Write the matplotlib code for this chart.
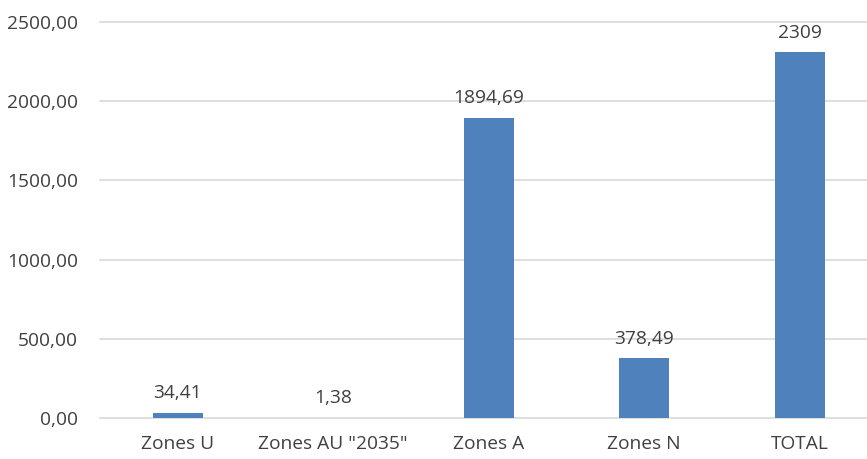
import matplotlib
matplotlib.use("Agg")
import matplotlib.pyplot as plt

categories = ["Zones U", 'Zones AU "2035"', "Zones A", "Zones N", "TOTAL"]
values = [34.41, 1.38, 1894.69, 378.49, 2309]
labels = ["34,41", "1,38", "1894,69", "378,49", "2309"]
yticks = [0, 500, 1000, 1500, 2000, 2500]

plt.rcParams['font.family'] = ['Open Sans', 'DejaVu Sans']
txt = '#404040'
fs = 13.8

fig = plt.figure(figsize=(8.67, 4.59), dpi=100)
ax = fig.add_axes([100/867, 41/459, 777.5/867, 396/459])
x = list(range(len(categories)))
bars = ax.bar(x, values, width=0.32, color='#4F81BD', zorder=3)
ax.set_xlim(-0.5, len(categories) - 0.5)
ax.set_ylim(0, 2500)
ax.set_yticks(yticks)
ax.set_yticklabels([f"{v:.2f}".replace('.', ',') for v in yticks])
ax.set_xticks(x)
ax.set_xticklabels(categories)
ax.tick_params(axis='both', length=0, labelsize=fs, colors=txt)
ax.tick_params(axis='y', pad=16)
ax.tick_params(axis='x', pad=12)
for s in ax.spines.values():
    s.set_visible(False)
ax.grid(axis='y', color='#D9D9D9', linewidth=1.2, zorder=0)
ax.set_axisbelow(True)
for gl in ax.get_ygridlines():
    gl.set_clip_on(False)
for xi, v, lab in zip(x, values, labels):
    ax.annotate(lab, (xi, v), xytext=(0, 7.5), textcoords='offset points',
                ha='center', va='bottom', fontsize=fs, color=txt)
fig.savefig('out.png', dpi=100)
